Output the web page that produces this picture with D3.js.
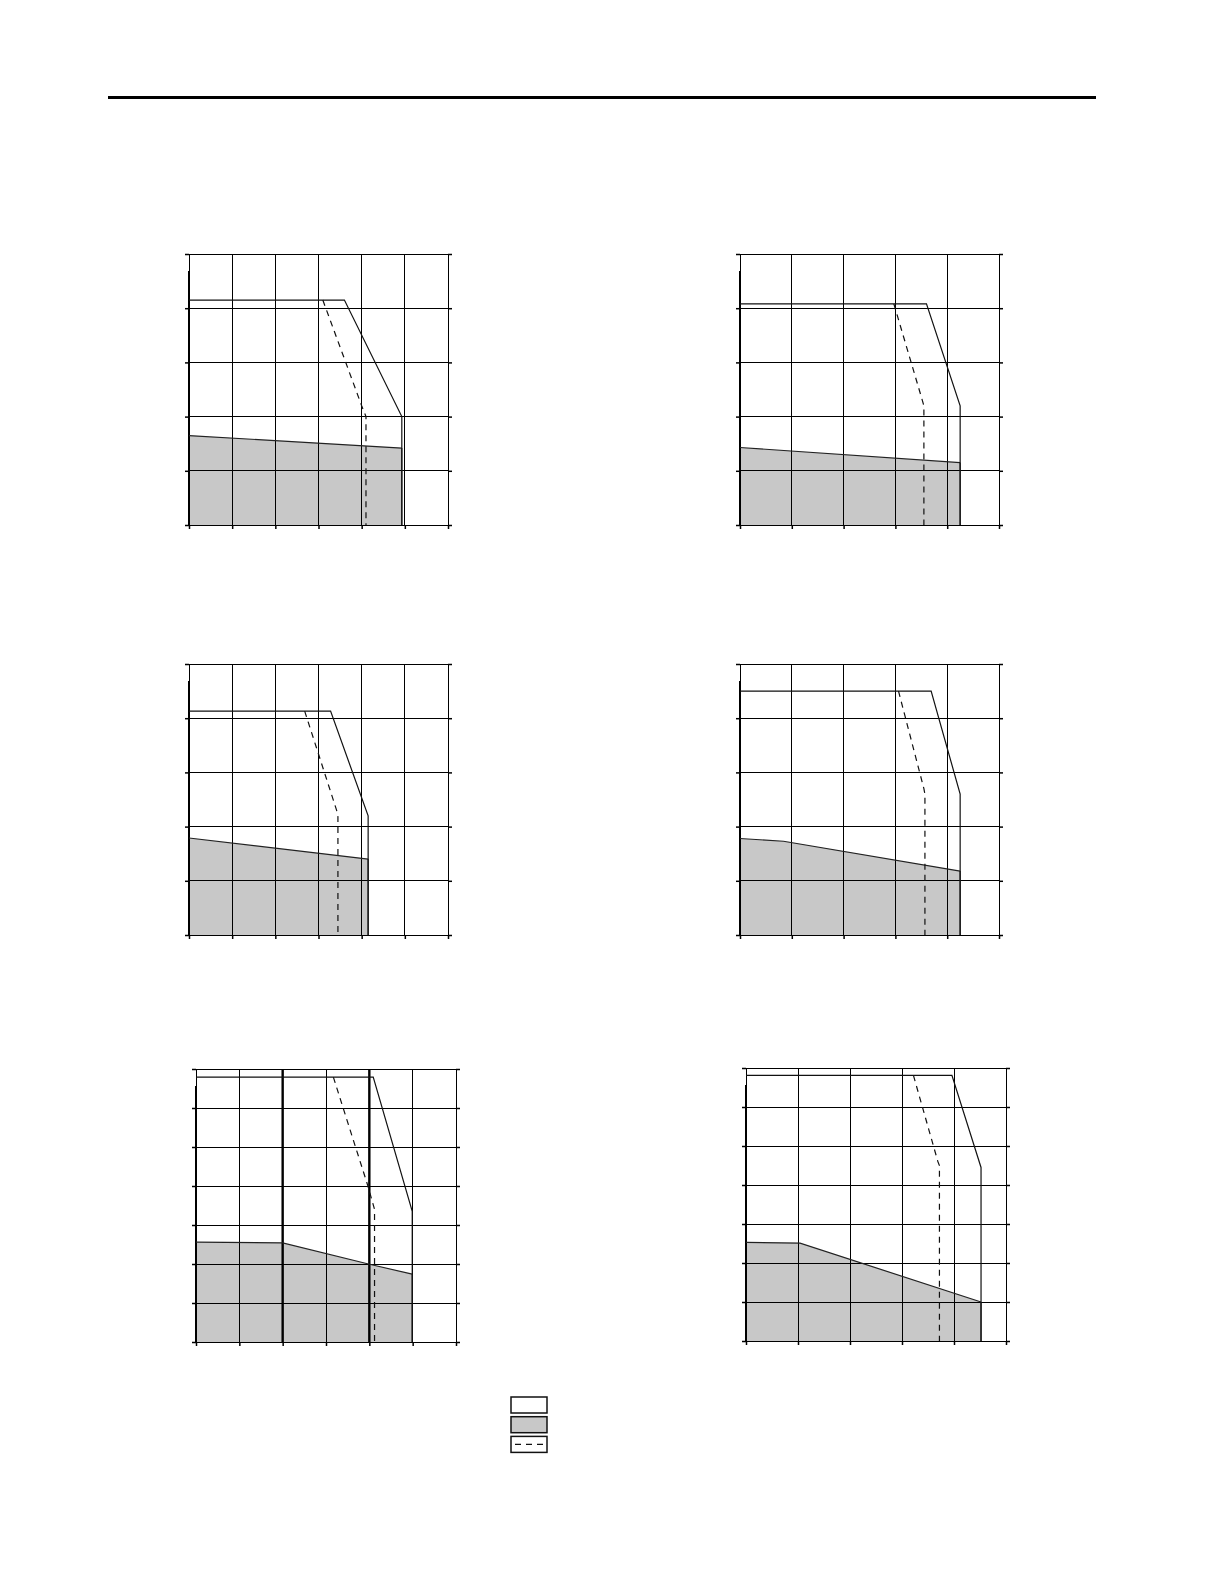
<!DOCTYPE html>
<html>
<head>
<meta charset="utf-8">
<script src="https://cdn.jsdelivr.net/npm/d3@7"></script>
<style>
  html, body { margin: 0; padding: 0; background: #fff; overflow: hidden; }
  svg { display: block; position: absolute; left: 0; top: 0; }
  .grid line { stroke: #000; stroke-width: 1; shape-rendering: crispEdges; }
  .tick line { stroke: #000; stroke-width: 1.5; }
  .area { fill: #c8c8c8; stroke: none; }
  .edge { fill: none; stroke: #222; stroke-width: 1.2; }
  .limit { fill: none; stroke: #111; stroke-width: 1.2; }
  .derate { fill: none; stroke: #111; stroke-width: 1.2; stroke-dasharray: 6,5; }
</style>
</head>
<body>
<script>
// grid size of each panel (x intervals, y intervals)
var xSteps = [6, 5, 6, 5, 6, 5];
var ySteps = [5, 5, 5, 5, 7, 7];

// solid outer limit curves
var solid1 = [[0, 4.15], [3.6, 4.15], [4.93, 2.0], [4.93, 0]];
var solid2 = [[0, 4.08], [3.6, 4.08], [4.25, 2.2], [4.25, 0]];
var solid3 = [[0, 4.13], [3.28, 4.13], [4.15, 2.2], [4.15, 0]];
var solid4 = [[0, 4.5], [3.69, 4.5], [4.25, 2.6], [4.25, 0]];
var solid5 = [[0, 6.79], [4.09, 6.79], [4.99, 3.35], [4.99, 0]];
var solid6 = [[0, 6.81], [3.96, 6.81], [4.52, 4.45], [4.52, 0]];

// dashed curves
var dashed1 = [[3.1, 4.15], [4.0, 2.2], [4.1, 2.0], [4.1, 0]];
var dashed2 = [[2.97, 4.08], [3.52, 2.3], [3.55, 2.2], [3.55, 0]];
var dashed3 = [[2.68, 4.13], [3.42, 2.3], [3.45, 2.18], [3.45, 0]];
var dashed4 = [[3.06, 4.5], [3.55, 2.7], [3.57, 2.6], [3.57, 0]];
var dashed5 = [[3.17, 6.79], [3.97, 3.99], [4.12, 3.4], [4.12, 0]];
var dashed6 = [[3.22, 6.81], [3.69, 4.6], [3.72, 4.5], [3.72, 0]];

// grey region upper edge
var gray1 = [[0, 1.65], [4.93, 1.42]];
var gray2 = [[0, 1.43], [4.25, 1.15]];
var gray3 = [[0, 1.79], [4.15, 1.4]];
var gray4 = [[0, 1.78], [0.84, 1.73], [4.25, 1.18]];
var gray5 = [[0, 2.56], [2.0, 2.54], [3.98, 2.0], [4.99, 1.74]];
var gray6 = [[0, 2.53], [1.04, 2.51], [4.52, 1.0]];

// heavier vertical rules (panel 5 only)
var heavyX5 = [2, 4];

var solids = [solid1, solid2, solid3, solid4, solid5, solid6];
var dashes = [dashed1, dashed2, dashed3, dashed4, dashed5, dashed6];
var grays = [gray1, gray2, gray3, gray4, gray5, gray6];
var heavy = [[], [], [], [], heavyX5, []];

var frames = [
  { left: 189, top: 254, width: 259, height: 271 },
  { left: 740, top: 254, width: 259, height: 271 },
  { left: 189, top: 664, width: 259, height: 271 },
  { left: 740, top: 664, width: 259, height: 271 },
  { left: 196, top: 1069, width: 260, height: 273 },
  { left: 746, top: 1068, width: 260, height: 273 }
];

var svg = d3.select('body').append('svg')
  .attr('width', 1224)
  .attr('height', 1584);

// heading rule
svg.append('rect')
  .attr('x', 108).attr('y', 96)
  .attr('width', 988).attr('height', 3)
  .attr('fill', '#000');

function drawPanel(i) {
  var f = frames[i];
  var x = d3.scaleLinear().domain([0, xSteps[i]]).range([0, f.width]);
  var y = d3.scaleLinear().domain([0, ySteps[i]]).range([f.height, 0]);

  var g = svg.append('g')
    .attr('transform', 'translate(' + f.left + ',' + f.top + ')');

  // grey area
  var pts = grays[i];
  var area = d3.area()
    .x(function (d) { return x(d[0]); })
    .y0(y(0))
    .y1(function (d) { return y(d[1]); });
  g.append('path').datum(pts).attr('class', 'area').attr('d', area);

  // grid
  var grid = g.append('g').attr('class', 'grid');
  grid.selectAll('.vx')
    .data(d3.range(0, xSteps[i] + 1))
    .enter().append('line')
      .attr('x1', function (d) { return x(d); })
      .attr('x2', function (d) { return x(d); })
      .attr('y1', 0)
      .attr('y2', f.height);
  grid.selectAll('.hy')
    .data(d3.range(0, ySteps[i] + 1))
    .enter().append('line')
      .attr('y1', function (d) { return y(d); })
      .attr('y2', function (d) { return y(d); })
      .attr('x1', 0)
      .attr('x2', f.width);

  // heavier verticals
  g.selectAll('.heavy')
    .data(heavy[i])
    .enter().append('line')
      .attr('stroke', '#000')
      .attr('stroke-width', 2.4)
      .attr('x1', function (d) { return x(d); })
      .attr('x2', function (d) { return x(d); })
      .attr('y1', 0)
      .attr('y2', f.height);

  // thicker left axis
  g.append('line')
    .attr('stroke', '#000').attr('stroke-width', 2)
    .attr('x1', 0).attr('x2', 0)
    .attr('y1', 17).attr('y2', f.height);

  // tick marks
  var axL = d3.axisLeft(y).ticks(ySteps[i]).tickSize(4).tickFormat('');
  var axR = d3.axisRight(y).ticks(ySteps[i]).tickSize(4).tickFormat('');
  var axB = d3.axisBottom(x).ticks(xSteps[i]).tickSize(4).tickFormat('');
  g.append('g').call(axL).select('.domain').remove();
  g.append('g').attr('transform', 'translate(' + f.width + ',0)').call(axR).select('.domain').remove();
  g.append('g').attr('transform', 'translate(0,' + f.height + ')').call(axB).select('.domain').remove();

  var line = d3.line()
    .x(function (d) { return x(d[0]); })
    .y(function (d) { return y(d[1]); });

  // grey edge
  g.append('path').datum(pts).attr('class', 'edge').attr('d', line);
  g.append('line').attr('class', 'edge')
    .attr('x1', x(pts[pts.length - 1][0])).attr('x2', x(pts[pts.length - 1][0]))
    .attr('y1', y(pts[pts.length - 1][1])).attr('y2', y(0));

  g.append('path').datum(dashes[i]).attr('class', 'derate').attr('d', line);
  g.append('path').datum(solids[i]).attr('class', 'limit').attr('d', line);
}

d3.range(6).forEach(drawPanel);

// legend swatches
var legendKinds = ['limit', 'area', 'derate'];
var lg = svg.append('g').attr('transform', 'translate(511,1397)');
var items = lg.selectAll('g')
  .data(legendKinds)
  .enter().append('g')
  .attr('transform', function (d, k) { return 'translate(0,' + (k * 19.7) + ')'; });

items.append('rect')
  .attr('width', 36).attr('height', 16)
  .attr('fill', function (d) { return d === 'area' ? '#c8c8c8' : '#fff'; })
  .attr('stroke', '#111').attr('stroke-width', 1.5);

items.filter(function (d) { return d === 'derate'; })
  .append('line')
  .attr('x1', 4).attr('x2', 33).attr('y1', 8).attr('y2', 8)
  .attr('stroke', '#111').attr('stroke-width', 1.2)
  .attr('stroke-dasharray', '6,5');
</script>
</body>
</html>
